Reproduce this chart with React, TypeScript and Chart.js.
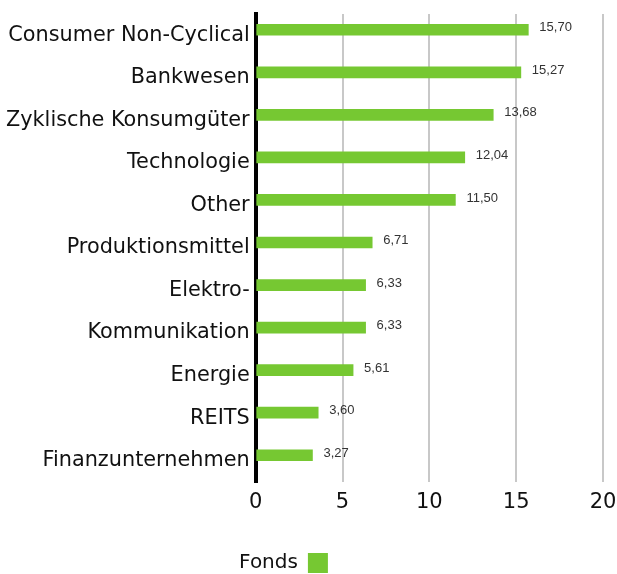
import React, { useEffect, useRef } from "react";
import { Chart, registerables } from "chart.js";

Chart.register(...registerables);

const categories = [
  "Consumer Non-Cyclical",
  "Bankwesen",
  "Zyklische Konsumgüter",
  "Technologie",
  "Other",
  "Produktionsmittel",
  "Elektro-",
  "Kommunikation",
  "Energie",
  "REITS",
  "Finanzunternehmen",
];
const fondsValues = [15.7, 15.27, 13.68, 12.04, 11.5, 6.71, 6.33, 6.33, 5.61, 3.6, 3.27];
const xTicks = [0, 5, 10, 15, 20];

const GREEN = "#76c832";
const FONT = "'DejaVu Sans', sans-serif";

const valueLabels = {
  id: "valueLabels",
  afterDatasetsDraw(chart: any) {
    const ctx = chart.ctx;
    const meta = chart.getDatasetMeta(0);
    const data = chart.data.datasets[0].data as number[];
    ctx.save();
    ctx.font = "13px 'Liberation Sans', Arial, sans-serif";
    ctx.fillStyle = "#333333";
    ctx.textAlign = "left";
    ctx.textBaseline = "middle";
    meta.data.forEach((el: any, i: number) => {
      const v = data[i];
      ctx.fillText(v.toFixed(2).replace(".", ","), el.x + 11, el.y - 2);
    });
    ctx.restore();
  },
};

const legendShift = {
  id: "legendShift",
  afterLayout(chart: any) {
    const lg = chart.legend;
    if (lg) {
      lg.left -= 25;
      lg.right -= 25;
    }
  },
};

export default function App() {
  const ref = useRef<HTMLCanvasElement | null>(null);
  useEffect(() => {
    if (!ref.current) return;
    const chart = new Chart(ref.current, {
      type: "bar",
      data: {
        labels: categories,
        datasets: [
          {
            label: "Fonds",
            data: fondsValues,
            backgroundColor: GREEN,
            barThickness: 11,
          },
          {
            label: "",
            data: [],
            backgroundColor: "rgba(0,0,0,0)",
            barThickness: 11,
          },
        ],
      },
      options: {
        indexAxis: "y",
        animation: false,
        responsive: false,
        maintainAspectRatio: false,
        layout: { padding: { top: 14, left: 0, right: 0, bottom: -9 } },
        plugins: {
          tooltip: { enabled: false },
          legend: {
            position: "bottom",
            rtl: true,
            labels: {
              filter: (item: any) => item.text !== "",
              font: { family: FONT, size: 20 },
              color: "#111",
              boxWidth: 20,
              boxHeight: 20,
              padding: 10,
            },
          },
        },
        scales: {
          x: {
            min: 0,
            max: 20,
            afterBuildTicks: (axis: any) => {
              axis.ticks = xTicks.map((v) => ({ value: v }));
            },
            afterFit: (axis: any) => {
              axis.height = 61;
              axis.paddingRight = 14;
            },
            grid: {
              color: (c: any) => (c.tick && c.tick.value === 0 ? "rgba(0,0,0,0)" : "#c8c8c8"),
              lineWidth: 2,
              drawTicks: false,
            },
            border: { display: false },
            ticks: {
              font: { family: FONT, size: 21 },
              color: "#111",
              padding: 8,
            },
          },
          y: {
            afterFit: (axis: any) => {
              axis.paddingTop = 0;
              axis.paddingBottom = 0;
            },
            grid: { display: false, drawTicks: false },
            border: { display: true, color: "#000", width: 4 },
            ticks: {
              font: { family: FONT, size: 20.8 },
              color: "#111",
              padding: 6,
            },
          },
        },
      },
      plugins: [valueLabels, legendShift],
    });
    return () => chart.destroy();
  }, []);
  return (
    <div style={{ position: "absolute", left: 0, top: 0, width: 617, height: 574 }}>
      <canvas ref={ref} width={617} height={574} style={{ width: 617, height: 574 }} />
    </div>
  );
}
